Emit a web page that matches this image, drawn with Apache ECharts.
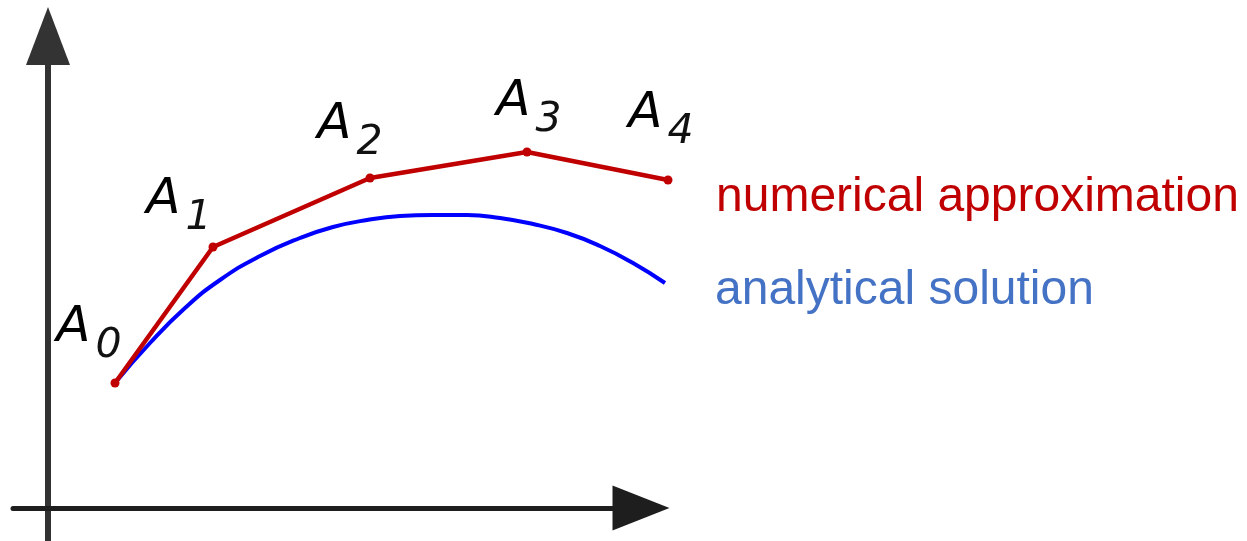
<!DOCTYPE html>
<html>
<head>
<meta charset="utf-8">
<script src="https://cdn.jsdelivr.net/npm/echarts@6/dist/echarts.min.js"></script>
<style>
  html, body { margin: 0; padding: 0; background: #fff; }
  #main { width: 1247px; height: 541px; }
</style>
</head>
<body>
<div id="main"></div>
<script>
// numerical approximation (Euler steps A0..A4)
var stepX = [67, 165, 322, 479, 620];
var stepY = [125, 261, 330, 356, 328];
var stepNames = ['0', '1', '2', '3', '4'];

// analytical solution, sampled along the curve
var exactX = [67, 102, 137, 172, 212, 252, 285, 319, 352, 385, 419, 452, 485, 519, 552, 585, 617];
var exactY = [125, 165, 200, 228, 252, 270, 281, 288, 292, 293, 293, 290, 284, 275, 262, 245, 225];

// label nudges for the A_i names (px)
var nameOffsets = [[-26, -55], [-34, -47], [-20, -53], [2, -50], [-7, -66]];

window.onload = function () {
    var myChart = echarts.init(document.getElementById('main'));

    var redData = [];
    for (var i = 0; i < stepX.length; i++) {
        redData.push({
            value: [stepX[i], stepY[i]],
            label: { offset: nameOffsets[i] }
        });
    }
    var blueData = [];
    for (var j = 0; j < exactX.length; j++) {
        blueData.push([exactX[j], exactY[j]]);
    }

    var hidden = { show: false };
    var option = {
        animation: false,
        // grid 0 holds the curves (whole canvas), grid 1 only draws the arrow axes
        grid: [
            { left: 0, right: 0, top: 0, bottom: 0 },
            { left: 13, right: 606, top: 36, bottom: 1 }
        ],
        xAxis: [
            { type: 'value', gridIndex: 0, min: -48, max: 1199, show: false },
            {
                type: 'value',
                gridIndex: 1,
                min: -35,
                max: 593,
                splitLine: hidden,
                axisTick: hidden,
                axisLabel: hidden,
                axisLine: {
                    onZero: true,
                    symbol: ['none', 'triangle'],
                    symbolSize: [45, 57],
                    lineStyle: { color: '#1e1e1e', width: 5 }
                }
            }
        ],
        yAxis: [
            { type: 'value', gridIndex: 0, min: -33, max: 508, show: false },
            {
                type: 'value',
                gridIndex: 1,
                min: -32,
                max: 472,
                splitLine: hidden,
                axisTick: hidden,
                axisLabel: hidden,
                axisLine: {
                    onZero: true,
                    symbol: ['none', 'triangle'],
                    symbolSize: [44, 58],
                    lineStyle: { color: '#333333', width: 6 }
                }
            }
        ],
        series: [
            {
                name: 'analytical solution',
                type: 'line',
                xAxisIndex: 0,
                yAxisIndex: 0,
                smooth: true,
                showSymbol: false,
                symbol: 'none',
                data: blueData,
                lineStyle: { color: '#0000ff', width: 4 },
                itemStyle: { color: '#0000ff' },
                endLabel: {
                    show: true,
                    position: 'right',
                    distance: 0,
                    offset: [50, 8],
                    formatter: 'analytical solution',
                    color: '#4472c4',
                    fontSize: 48,
                    fontFamily: 'Liberation Sans'
                }
            },
            {
                name: 'numerical approximation',
                type: 'line',
                xAxisIndex: 0,
                yAxisIndex: 0,
                symbol: 'circle',
                symbolSize: 9,
                data: redData,
                lineStyle: { color: '#c00000', width: 4.5 },
                itemStyle: { color: '#c00000' },
                label: {
                    show: true,
                    position: 'inside',
                    formatter: function (p) {
                        return '{a|A}{s|' + stepNames[p.dataIndex] + '}';
                    },
                    rich: {
                        a: {
                            fontSize: 50,
                            lineHeight: 58,
                            fontStyle: 'italic',
                            fontFamily: 'DejaVu Sans',
                            color: '#000'
                        },
                        s: {
                            fontSize: 41,
                            lineHeight: 41,
                            fontStyle: 'italic',
                            fontFamily: 'DejaVu Sans ExtraLight, DejaVu Sans',
                            color: '#111',
                            padding: [36, 0, 0, 5]
                        }
                    }
                },
                endLabel: {
                    show: true,
                    position: 'right',
                    distance: 0,
                    offset: [48, 18],
                    formatter: 'numerical approximation',
                    color: '#c00000',
                    fontSize: 48,
                    fontFamily: 'Liberation Sans'
                }
            }
        ]
    };
    myChart.setOption(option);
};
</script>
</body>
</html>
